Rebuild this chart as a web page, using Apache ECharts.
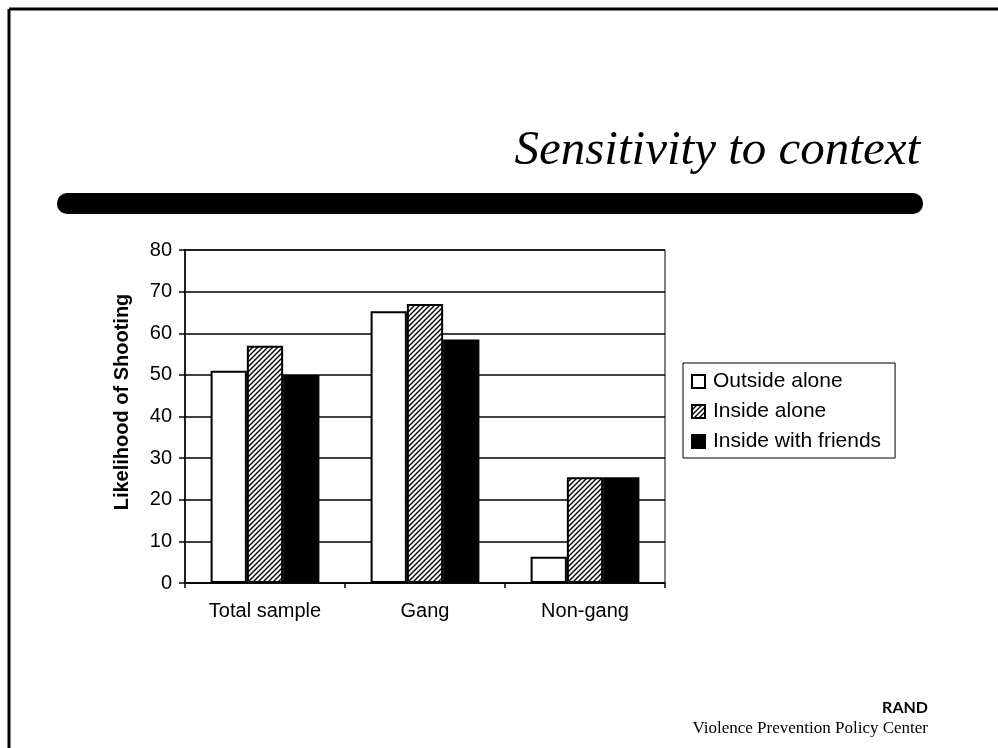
<!DOCTYPE html>
<html>
<head>
<meta charset="utf-8">
<script src="https://cdn.jsdelivr.net/npm/echarts@6/dist/echarts.min.js"></script>
<style>
  html, body { margin: 0; padding: 0; background: #fff; }
  #chart { width: 998px; height: 748px; }
</style>
</head>
<body>
<div id="chart"></div>
<script>
// 数据
var categories = ['Total sample', 'Gang', 'Non-gang'];
var outsideAlone = [51, 65.3, 6.3];
var insideAlone = [57, 67, 25.4];
var insideFriends = [50, 58.5, 25.4];
var seriesNames = ['Outside alone', 'Inside alone', 'Inside with friends'];
var yTicks = { min: 0, max: 80, interval: 10 };

var SANS = 'Arial, "Liberation Sans", sans-serif';
var SERIF = '"Liberation Serif", "Times New Roman", serif';

// 斜线填充
function makeHatch() {
    var c = document.createElement('canvas');
    c.width = 5; c.height = 5;
    var ctx = c.getContext('2d');
    ctx.fillStyle = '#fff';
    ctx.fillRect(0, 0, 5, 5);
    ctx.strokeStyle = '#000';
    ctx.lineWidth = 1.4;
    ctx.beginPath();
    ctx.moveTo(-1, 6); ctx.lineTo(6, -1);
    ctx.moveTo(-1, 1); ctx.lineTo(1, -1);
    ctx.moveTo(4, 6); ctx.lineTo(6, 4);
    ctx.stroke();
    return c;
}
var hatch = { image: makeHatch(), repeat: 'repeat' };

var myChart = echarts.init(document.getElementById('chart'), null, { renderer: 'canvas' });

var option = {
    backgroundColor: '#fff',
    animation: false,
    grid: {
        left: 185, right: 333, top: 250, bottom: 165,
        show: true, borderColor: '#000', borderWidth: 1, backgroundColor: 'transparent'
    },
    legend: {
        orient: 'vertical',
        left: 683, top: 363,
        padding: [8, 14, 6, 8],
        icon: 'rect',
        itemWidth: 13, itemHeight: 13, itemGap: 9,
        borderColor: '#000', borderWidth: 1,
        textStyle: { fontFamily: SANS, fontSize: 21, color: '#000', padding: [0, 0, 0, 3] },
        data: seriesNames
    },
    xAxis: {
        type: 'category',
        data: categories,
        axisLine: { lineStyle: { color: '#000', width: 1.5 } },
        axisTick: { show: true, length: 5, lineStyle: { color: '#000', width: 1.5 } },
        axisLabel: { color: '#000', fontFamily: SANS, fontSize: 20, margin: 18 }
    },
    yAxis: {
        type: 'value',
        min: yTicks.min, max: yTicks.max, interval: yTicks.interval,
        axisLine: { show: true, lineStyle: { color: '#000', width: 1.5 } },
        axisTick: { show: true, length: 6, lineStyle: { color: '#000', width: 1.5 } },
        axisLabel: { color: '#000', fontFamily: SANS, fontSize: 20, margin: 13 },
        splitLine: { lineStyle: { color: '#000', width: 1.5 } }
    },
    series: [
        {
            name: seriesNames[0], type: 'bar', data: outsideAlone,
            barGap: '0%', barCategoryGap: '32%',
            itemStyle: { color: '#fff', borderColor: '#000', borderWidth: 2 }
        },
        {
            name: seriesNames[1], type: 'bar', data: insideAlone,
            itemStyle: { color: hatch, borderColor: '#000', borderWidth: 2 }
        },
        {
            name: seriesNames[2], type: 'bar', data: insideFriends,
            itemStyle: { color: '#000', borderColor: '#000', borderWidth: 2 }
        }
    ],
    graphic: [
        // 外框
        { type: 'line', shape: { x1: 9, y1: 9, x2: 998, y2: 9 }, style: { stroke: '#000', lineWidth: 3 } },
        { type: 'line', shape: { x1: 9, y1: 9, x2: 9, y2: 748 }, style: { stroke: '#000', lineWidth: 3 } },
        // 标题
        {
            type: 'text', x: 920, y: 176,
            style: {
                text: 'Sensitivity to context',
                font: 'italic 49px ' + SERIF,
                fill: '#000', textAlign: 'right', textVerticalAlign: 'bottom'
            }
        },
        { type: 'rect', shape: { x: 57, y: 193, width: 866, height: 21, r: 10 }, style: { fill: '#000' } },
        // y 轴标题
        {
            type: 'text', x: 122, y: 402, rotation: Math.PI / 2,
            style: {
                text: 'Likelihood of Shooting',
                font: 'bold 20px ' + SANS,
                fill: '#000', textAlign: 'center', textVerticalAlign: 'middle'
            }
        },
        // 页脚
        {
            type: 'text', x: 928, y: 716,
            style: {
                text: 'RAND', font: 'bold 16px Lato, "DejaVu Sans", sans-serif',
                fill: '#000', textAlign: 'right', textVerticalAlign: 'bottom'
            }
        },
        {
            type: 'text', x: 928, y: 737,
            style: {
                text: 'Violence Prevention Policy Center',
                font: '17px ' + SERIF,
                fill: '#000', textAlign: 'right', textVerticalAlign: 'bottom'
            }
        }
    ]
};

myChart.setOption(option);
</script>
</body>
</html>
